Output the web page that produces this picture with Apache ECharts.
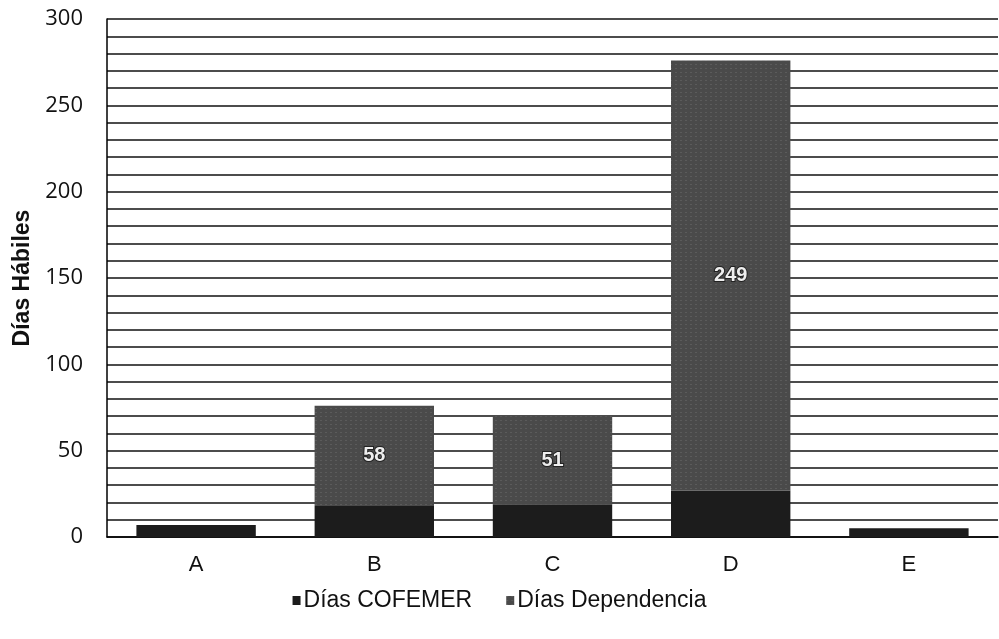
<!DOCTYPE html>
<html>
<head>
<meta charset="utf-8">
<script src="https://cdn.jsdelivr.net/npm/echarts@6/dist/echarts.min.js"></script>
<style>
	html, body { margin: 0; padding: 0; background: #fff; }
	#chart { width: 999px; height: 639px; }
</style>
</head>
<body>
<div id="chart"></div>
<script>
const categories = ["A", "B", "C", "D", "E"];
const diasCofemer = [7, 18, 19, 27, 5];
const diasDependencia = [null, 58, 51, 249, null];

const chart = echarts.init(document.getElementById("chart"));
chart.setOption({
	animation: false,
	grid: {left: 107, right: 1, top: 19, bottom: 102},
	legend: {
		bottom: 22,
		left: "center",
		icon: "rect",
		itemWidth: 8,
		itemHeight: 9,
		itemGap: 34,
		textStyle: {fontFamily: "Liberation Sans", fontSize: 23, color: "#111", padding: [0, 0, 0, -2]},
		data: ["Días COFEMER", "Días Dependencia"]
	},
	xAxis: {
		type: "category",
		data: categories,
		axisTick: {show: false},
		axisLine: {lineStyle: {color: "#000", width: 1.5}},
		axisLabel: {fontFamily: "Liberation Sans", fontSize: 22, color: "#111", margin: 17}
	},
	yAxis: {
		type: "value",
		min: 0,
		max: 300,
		interval: 10,
		name: "Días Hábiles",
		nameLocation: "middle",
		nameGap: 72,
		nameTextStyle: {fontFamily: "Liberation Sans", fontSize: 23, fontWeight: "bold", color: "#111"},
		axisLine: {show: true, lineStyle: {color: "#000", width: 1.5}},
		axisTick: {show: false},
		axisLabel: {
			fontFamily: "Open Sans",
			fontSize: 22,
			color: "#111",
			margin: 24,
			formatter: v => (v % 50 === 0 ? v : "")
		},
		splitLine: {lineStyle: {color: "#111", width: 1.6}}
	},
	series: [
		{
			name: "Días COFEMER",
			type: "bar",
			stack: "total",
			barCategoryGap: "33%",
			data: diasCofemer,
			itemStyle: {color: "#1c1c1c"}
		},
		{
			name: "Días Dependencia",
			type: "bar",
			stack: "total",
			data: diasDependencia,
			itemStyle: {
				color: "#4a4a4a",
				decal: {symbol: "rect", symbolSize: 0.5, color: "rgba(255,255,255,0.4)", dashArrayX: [2, 3], dashArrayY: [1, 3], rotation: 0}
			},
			label: {
				show: true,
				position: "inside",
				fontFamily: "Liberation Sans",
				fontWeight: "bold",
				fontSize: 20,
				color: "#eee",
				textBorderColor: "#222",
				textBorderWidth: 2
			}
		}
	]
});
</script>
</body>
</html>
